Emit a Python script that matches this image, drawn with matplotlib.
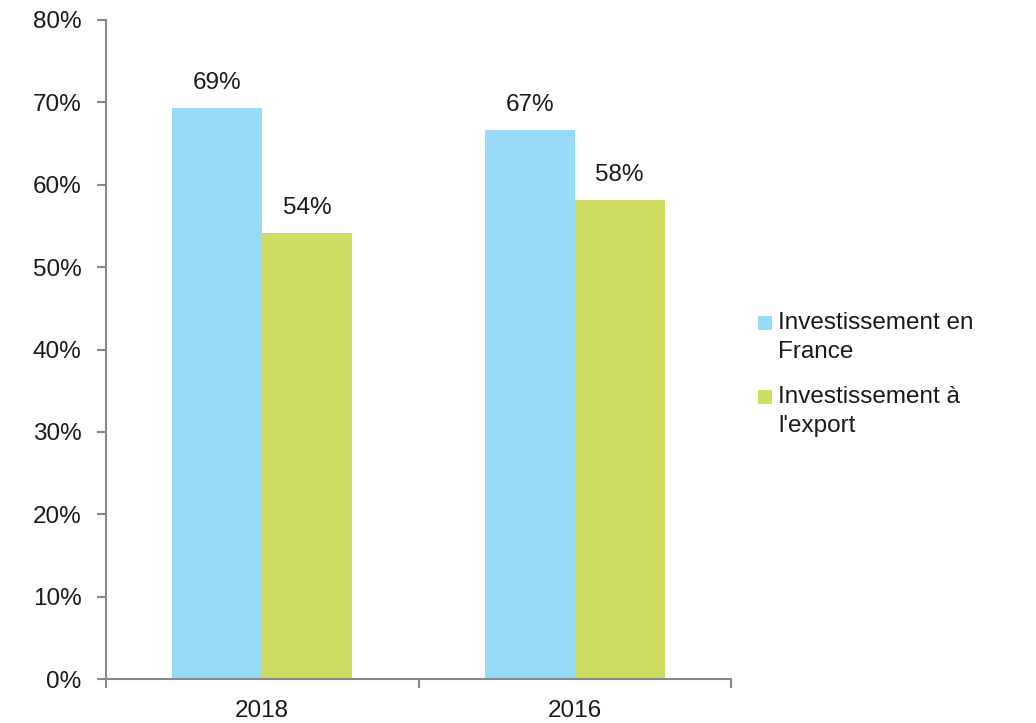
import matplotlib
matplotlib.use("Agg")
import matplotlib.pyplot as plt
from matplotlib.patches import Rectangle
import numpy as np

categories = ["2018", "2016"]
series_names = ["Investissement en\nFrance", "Investissement à\nl'export"]
france = [69.3, 66.7]
export = [54.2, 58.2]
colors = ["#97DAF7", "#CEDD62"]
yticks = [0, 10, 20, 30, 40, 50, 60, 70, 80]

plt.rcParams['font.family'] = ['Liberation Sans', 'DejaVu Sans']
FS = 17.5
TXT = '#1a1a1a'
W, H = 1036, 723

fig = plt.figure(figsize=(W/100, H/100), dpi=100)
ax = fig.add_axes([106/W, 44/H, (731-106)/W, (679-20)/H])

x = np.arange(len(categories))
w = 0.288
b1 = ax.bar(x - w/2, france, w, color=colors[0])
b2 = ax.bar(x + w/2, export, w, color=colors[1])

for bars, vals in ((b1, france), (b2, export)):
    for rect, v in zip(bars, vals):
        ax.text(rect.get_x() + rect.get_width()/2, v + 1.7, f"{v:.0f}%",
                ha='center', va='bottom', fontsize=FS, color=TXT)

ax.set_xlim(-0.5, len(categories) - 0.5)
ax.set_ylim(0, 80)
ax.set_yticks(yticks)
ax.set_yticklabels([f"{t}%" for t in yticks], fontsize=FS, color=TXT)
ax.set_xticks(x)
ax.set_xticklabels(categories, fontsize=FS, color=TXT)
ax.tick_params(axis='x', length=0, pad=15)
ax.tick_params(axis='y', length=6.5, color='#888888', width=1.5, pad=11)
ax.set_xticks([-0.5, 0.5, 1.5], minor=True)
ax.tick_params(axis='x', which='minor', length=6.5, color='#888888', width=1.5, direction='out')

for s in ['top', 'right']:
    ax.spines[s].set_visible(False)
for s in ['left', 'bottom']:
    ax.spines[s].set_color('#888888')
    ax.spines[s].set_linewidth(1.5)

# legend: handle aligned with the first line of each entry
entry_tops = [323, 397]
line_gap = 29
for name, col, y0 in zip(series_names, colors, entry_tops):
    fig.patches.append(Rectangle((758/W, 1 - (y0 + 7)/H), 14/W, 14/H,
                                 transform=fig.transFigure, facecolor=col,
                                 edgecolor='none'))
    for k, line in enumerate(name.split("\n")):
        fig.text(778/W, 1 - (y0 + k*line_gap)/H, line, fontsize=FS,
                 color=TXT, ha='left', va='center')

fig.savefig("out.png", dpi=100)
